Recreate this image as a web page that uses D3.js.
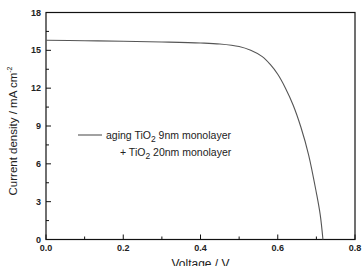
<!DOCTYPE html>
<html>
<head>
<meta charset="utf-8">
<script src="https://cdn.jsdelivr.net/npm/d3@7"></script>
<style>
  html, body { margin: 0; padding: 0; background: #fff; }
  svg { display: block; font-family: "Liberation Sans", Arial, sans-serif; }
  .tick-label { font-size: 9px; font-weight: bold; fill: #222; }
  .axis-label { font-size: 12px; fill: #222; }
  .legend { font-size: 10.5px; fill: #222; }
</style>
</head>
<body>
<div id="chart"></div>
<script>
// J-V curve
const voltage = [0, 0.1, 0.2, 0.3, 0.4, 0.45, 0.5, 0.53, 0.56, 0.58, 0.6, 0.62, 0.64, 0.66, 0.68, 0.7, 0.71, 0.717]
const current = [15.8, 15.76, 15.72, 15.66, 15.58, 15.5, 15.3, 15.0, 14.5, 13.9, 13.1, 12.0, 10.65, 8.9, 6.7, 3.7, 1.95, 0]

const xTicks = [0, 0.2, 0.4, 0.6, 0.8]
const xMinor = [0.1, 0.3, 0.5, 0.7]
const yTicks = [0, 3, 6, 9, 12, 15, 18]
const yMinor = [1.5, 4.5, 7.5, 10.5, 13.5, 16.5]

const width = 362
const height = 266
const margin = { top: 12.5, right: 7, bottom: 26.5, left: 46 }
const innerW = width - margin.left - margin.right
const innerH = height - margin.top - margin.bottom

const svg = d3.select('#chart').append('svg').attr('width', width).attr('height', height)
const g = svg.append('g').attr('transform', `translate(${margin.left},${margin.top})`)

const x = d3.scaleLinear().domain([0, 0.8]).range([0, innerW])
const y = d3.scaleLinear().domain([0, 18]).range([innerH, 0])

// frame
g.append('rect')
  .attr('width', innerW).attr('height', innerH)
  .attr('fill', 'none').attr('stroke', '#111').attr('stroke-width', 1.2)

// inward ticks
const tickG = g.append('g').attr('stroke', '#111').attr('stroke-width', 1)
tickG.selectAll('line.xmaj').data(xTicks).join('line')
  .attr('x1', (d) => x(d)).attr('x2', (d) => x(d))
  .attr('y1', innerH).attr('y2', innerH - 5)
tickG.selectAll('line.xmin').data(xMinor).join('line')
  .attr('x1', (d) => x(d)).attr('x2', (d) => x(d))
  .attr('y1', innerH).attr('y2', innerH - 3)
tickG.selectAll('line.ymaj').data(yTicks).join('line')
  .attr('x1', 0).attr('x2', 5)
  .attr('y1', (d) => y(d)).attr('y2', (d) => y(d))
tickG.selectAll('line.ymin').data(yMinor).join('line')
  .attr('x1', 0).attr('x2', 3)
  .attr('y1', (d) => y(d)).attr('y2', (d) => y(d))

// tick labels
g.selectAll('text.xl').data(xTicks).join('text')
  .attr('class', 'tick-label')
  .attr('x', (d) => x(d)).attr('y', innerH + 11)
  .attr('text-anchor', 'middle')
  .text(d3.format('.1f'))
g.selectAll('text.yl').data(yTicks).join('text')
  .attr('class', 'tick-label')
  .attr('x', -5).attr('y', (d) => y(d) + 3)
  .attr('text-anchor', 'end')
  .text((d) => d)

// axis titles (the reference crops the x title at the bottom edge)
svg.append('text').attr('class', 'axis-label')
  .attr('text-anchor', 'middle')
  .attr('x', margin.left + x(0.4)).attr('y', height + 2)
  .text('Voltage / V')

const yl = svg.append('text').attr('class', 'axis-label')
  .attr('text-anchor', 'middle')
  .style('font-size', '11.5px')
  .attr('transform', `translate(17,${margin.top + innerH / 2 + 5}) rotate(-90)`)
yl.append('tspan').text('Current density / mA cm')
yl.append('tspan').attr('dy', -5).attr('font-size', 7).text('-2')

// curve
const line = d3.line()
  .x((d, i) => x(voltage[i]))
  .y((d) => y(d))
  .curve(d3.curveCatmullRom.alpha(0.5))
g.append('path').datum(current)
  .attr('fill', 'none').attr('stroke', '#555').attr('stroke-width', 1.1)
  .attr('d', line)

// legend
const lg = svg.append('g')
lg.append('line').attr('x1', 78).attr('x2', 102).attr('y1', 135).attr('y2', 135)
  .attr('stroke', '#555').attr('stroke-width', 1.1)
const t1 = lg.append('text').attr('class', 'legend').attr('x', 106).attr('y', 138.5)
t1.append('tspan').text('aging TiO')
t1.append('tspan').attr('dy', 3).attr('font-size', 8.5).text('2')
t1.append('tspan').attr('dy', -3).text(' 9nm monolayer')
const t2 = lg.append('text').attr('class', 'legend').attr('x', 120).attr('y', 156)
t2.append('tspan').text('+ TiO')
t2.append('tspan').attr('dy', 3).attr('font-size', 8.5).text('2')
t2.append('tspan').attr('dy', -3).text(' 20nm monolayer')
</script>
</body>
</html>
